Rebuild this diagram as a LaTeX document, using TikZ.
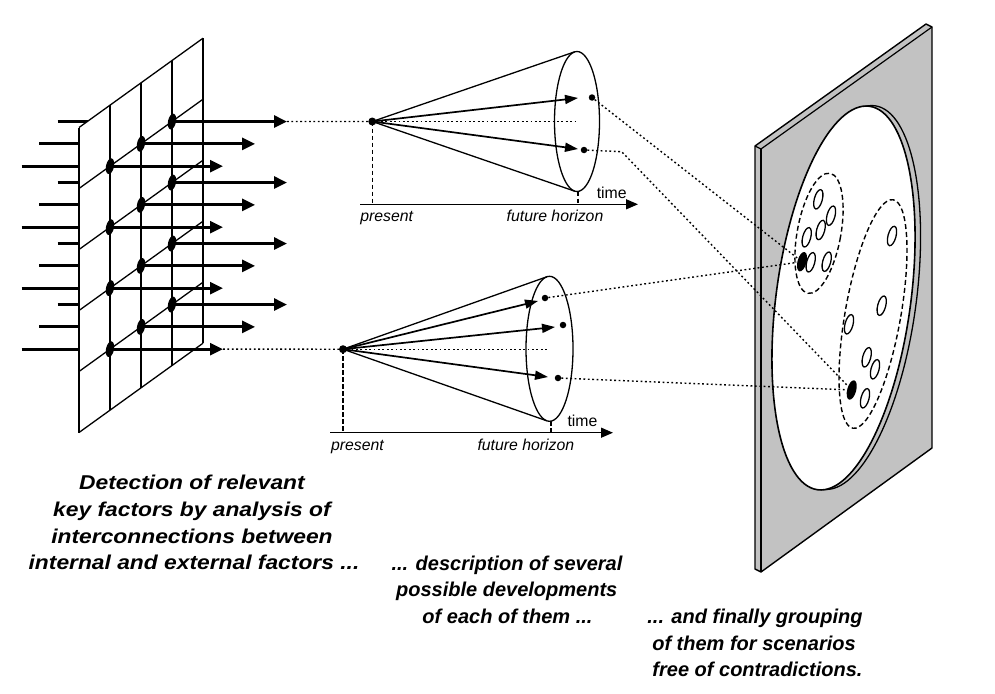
\documentclass[tikz,border=0pt]{standalone}
\usepackage{fontspec}
\setmainfont{Liberation Sans}
\usepackage{graphicx}
\usetikzlibrary{arrows.meta,shapes.geometric}
\newcommand\stretchtxt[1]{\scalebox{1.14}[1]{#1}}
\tikzset{
  gridline/.style={line width=1.3pt},
  fatarrow/.style={line width=2.8pt,-{Triangle[length=13pt,width=12pt]}},
  inline/.style={line width=2.8pt},
  gdot/.style={ellipse,fill=black,inner sep=0pt,minimum width=8pt,minimum height=16pt,rotate=-12},
  conearrow/.style={line width=1.7pt,-{Triangle[length=13pt,width=9pt]}},
  coneline/.style={line width=1.3pt},
  cdot/.style={circle,fill=black,inner sep=0pt,minimum size=6.5pt},
  apexdot/.style={circle,fill=black,inner sep=0pt,minimum size=8pt},
  dotline/.style={line width=1.4pt,dash pattern=on 1.8pt off 2.6pt},
  dashline/.style={line width=1.5pt,dash pattern=on 4.5pt off 2.5pt},
  axisline/.style={line width=1.3pt,-{Triangle[length=12pt,width=10pt]}},
  clusterline/.style={line width=1.4pt,dash pattern=on 5pt off 3pt},
  oval/.style={ellipse,draw,line width=1.3pt,inner sep=0pt,minimum width=8pt,minimum height=20pt,rotate=-15,fill=white},
  blackoval/.style={ellipse,fill=black,inner sep=0pt,minimum width=9pt,minimum height=20pt,rotate=-15},
  caption/.style={anchor=base,inner sep=0pt,font=\fontsize{20}{24}\selectfont\bfseries\itshape},
  lbl/.style={anchor=base,inner sep=0pt,font=\fontsize{15.8}{18}\selectfont\itshape},
  tlbl/.style={anchor=base,inner sep=0pt,font=\fontsize{15.8}{18}\selectfont},
  panelfill/.style={fill=black!24}
}
\begin{document}
\begin{tikzpicture}[x=1pt,y=-1pt]
\useasboundingbox (0,0) rectangle (995,693);

% ---------- left grid panel ----------
\foreach \r in {0,1,2,3}{
  \foreach \c/\sx in {110/21.7,141/39,172/57.7}{
    \pgfmathsetmacro{\yy}{188.5+61*\r-0.72*(\c-79)}
    \coordinate (s\r-\c) at (\sx,\yy);
    \coordinate (e\r-\c) at (92,\yy);
    \draw[inline] (s\r-\c) -- (e\r-\c);
  }
}
\fill[white] (79,127.5) -- (203,38.2) -- (203,343.2) -- (79,432.5) -- cycle;
\foreach \x in {79,110,141,172,203}{
  \draw[gridline] (\x,{127.5-0.72*(\x-79)}) -- (\x,{432.5-0.72*(\x-79)});
}
\foreach \yl in {127.5,188.5,249.5,310.5,371.5,432.5}{
  \draw[gridline] (79,\yl) -- (203,{\yl-89.28});
}
\foreach \r in {0,1,2,3}{
  \foreach \c/\tx in {110/223,141/255,172/287}{
    \pgfmathsetmacro{\yy}{188.5+61*\r-0.72*(\c-79)}
    \node[gdot] (d\r-\c) at (\c,\yy) {};
    \coordinate (t\r-\c) at (\tx,\yy);
    \draw[fatarrow] (d\r-\c.center) -- (t\r-\c);
  }
}

% ---------- upper cone ----------
\node[apexdot] (A1) at (372.3,121.5) {};
\node[ellipse,draw,line width=1.3pt,inner sep=0pt,minimum width=45pt,minimum height=140pt] (E1) at (577,121.5) {};
\coordinate (E1t) at (574.5,51.9);
\coordinate (E1b) at (574.5,191.1);
\draw[coneline] (A1.center) -- (E1t);
\draw[coneline] (A1.center) -- (E1b);
\coordinate (E1m) at (577,121.5);
\draw[dotline] (A1) -- (E1m);
\coordinate (u1) at (578,98);
\coordinate (u2) at (578,149);
\draw[conearrow] (A1.center) -- (u1);
\draw[conearrow] (A1.center) -- (u2);
\node[cdot] (c11) at (592,97.5) {};
\node[cdot] (c12) at (584,150) {};
\coordinate (ax1s) at (360,204.3);
\coordinate (ax1e) at (638,204.3);
\draw[axisline] (ax1s) -- (ax1e);
\coordinate (p1) at (372.3,204.3);
\draw[dashline] (A1.center) -- (p1);
\coordinate (h1a) at (578,191.5);
\coordinate (h1b) at (578,204.3);
\draw[dashline] (h1a) -- (h1b);
\node[lbl] (pres1) at (386.7,221.7) {present};
\node[lbl] (fut1) at (555,221.7) {future horizon};
\node[tlbl] (time1) at (611.7,198.3) {time};
\draw[dotline] (t0-172) -- (A1);

% ---------- lower cone ----------
\node[apexdot] (A2) at (343,349.2) {};
\node[ellipse,draw,line width=1.3pt,inner sep=0pt,minimum width=47pt,minimum height=145pt] (E2) at (549.5,348.8) {};
\coordinate (E2t) at (546.8,276.8);
\coordinate (E2b) at (546.8,420.8);
\draw[coneline] (A2.center) -- (E2t);
\draw[coneline] (A2.center) -- (E2b);
\coordinate (E2m) at (548,349.2);
\draw[dotline] (A2) -- (E2m);
\coordinate (w1) at (538,301);
\coordinate (w2) at (555,327);
\coordinate (w3) at (548,377);
\draw[conearrow] (A2.center) -- (w1);
\draw[conearrow] (A2.center) -- (w2);
\draw[conearrow] (A2.center) -- (w3);
\node[cdot] (c21) at (545,298) {};
\node[cdot] (c22) at (563,325) {};
\node[cdot] (c23) at (558,378) {};
\coordinate (ax2s) at (330,432.7);
\coordinate (ax2e) at (613,432.7);
\draw[axisline] (ax2s) -- (ax2e);
\coordinate (p2) at (343,432.7);
\draw[dashline] (A2.center) -- (p2);
\coordinate (h2a) at (551,421.3);
\coordinate (h2b) at (551,432.7);
\draw[dashline] (h2a) -- (h2b);
\node[lbl] (pres2) at (357.5,450) {present};
\node[lbl] (fut2) at (525.8,450) {future horizon};
\node[tlbl] (time2) at (582.5,426.7) {time};
\draw[dotline] (t3-110) -- (A2);

% ---------- right panel ----------
\fill[panelfill] (755,146) -- (926,24) -- (932,27) -- (932,448) -- (761,572) -- (755,569) -- cycle;
\draw[line width=1.4pt,line join=round] (755,146) -- (926,24) -- (932,27) -- (932,448) -- (761,572) -- (755,569) -- cycle;
\draw[line width=1.2pt] (755,146) -- (761,149) -- (932,27);
\draw[line width=1.2pt] (761,149) -- (761,572);
\draw[line width=1.3pt,panelfill,draw=black,rotate around={-7.7:(849,297.5)}] (849,297.5) ellipse [x radius=67.3,y radius=193.5];
\draw[line width=1.6pt,fill=white,rotate around={-7.7:(843.5,298)}] (843.5,298) ellipse [x radius=67.3,y radius=193.5];
\draw[clusterline,rotate around={-10.4:(819,233.3)}] (819,233.3) ellipse [x radius=21.8,y radius=61];
\draw[clusterline,rotate around={-10:(873,314)}] (873,314) ellipse [x radius=27.8,y radius=116];

\node[oval] (o1) at (818.3,199.3) {};
\node[oval] (o2) at (831,215.7) {};
\node[oval] (o3) at (820.7,230) {};
\node[oval] (o4) at (806.7,237.3) {};
\node[oval] (o5) at (810.7,262.3) {};
\node[oval] (o6) at (826.7,261.7) {};
\node[blackoval] (B1) at (802,261.7) {};
\node[oval] (o7) at (892,236) {};
\node[oval] (o8) at (881.7,305.7) {};
\node[oval] (o9) at (849,324.3) {};
\node[oval] (o10) at (866.7,357.3) {};
\node[oval] (o11) at (875,369.3) {};
\node[oval] (o12) at (865,398.3) {};
\node[blackoval] (B2) at (851.7,390) {};

% ---------- connectors to the panel ----------
\coordinate (bendA) at (621.7,151.7);
\draw[dotline] (c11) -- (B1);
\draw[dotline] (c21) -- (B1);
\draw[dotline] (c12) -- (bendA) -- (B2);
\draw[dotline] (c23) -- (B2);

% ---------- captions ----------
\node[caption] (b1a) at (192,489.5) {\stretchtxt{Detection of relevant}};
\node[caption] (b1b) at (192,516.5) {\stretchtxt{key factors by analysis of}};
\node[caption] (b1c) at (192,543.5) {\stretchtxt{interconnections between}};
\node[caption] (b1d) at (194,569.7) {\stretchtxt{internal and external factors ...}};
\node[caption] (b2a) at (507,570) {... description of several};
\node[caption] (b2b) at (506.7,596.7) {possible developments};
\node[caption] (b2c) at (507.5,623) {of each of them ...};
\node[caption] (b3a) at (755,623.3) {... and finally grouping};
\node[caption] (b3b) at (754,650) {of them for scenarios};
\node[caption] (b3c) at (757.5,676.7) {free of contradictions.};
\end{tikzpicture}
\end{document}
